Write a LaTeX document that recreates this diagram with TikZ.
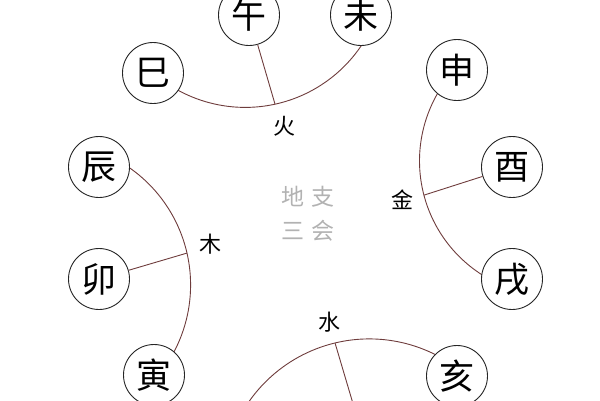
\documentclass[tikz,border=0pt]{standalone}
\usepackage{fontspec}
\setmainfont{Noto Sans CJK SC}
\definecolor{arcred}{RGB}{110,60,60}
\begin{document}
\begin{tikzpicture}[x=1pt,y=1pt,
    zhi/.style={circle,draw=black!85,line width=0.9pt,fill=white,
                minimum size=61pt,inner sep=0pt,font=\fontsize{35}{35}\selectfont},
    xing/.style={font=\fontsize{22}{22}\selectfont},
    link/.style={draw=arcred,line width=0.9pt}]

    \useasboundingbox (0,0) rectangle (600,-400);
    \clip (0,0) rectangle (600,-400);

    % Arc Centres
    % -----------
    \coordinate (firec)  at (245.2,32.6);
    \coordinate (metalc) at (554.5,-160.9);
    \coordinate (woodc)  at (47.6,-285.0);
    \coordinate (waterc) at (369.3,-485.7);

    % Arcs
    % ----
    \draw[link] (firec)  ++(-131:140)   arc[start angle=-131, end angle=-30,  radius=140];
    \draw[link] (metalc) ++(137:135)    arc[start angle=137,  end angle=245,  radius=135];
    \draw[link] (woodc)  ++(60:143)     arc[start angle=60,   end angle=-33,  radius=143];
    \draw[link] (waterc) ++(160:146.8)  arc[start angle=160,  end angle=58,   radius=146.8];

    \path (firec)  ++(-77.7:140)   coordinate (firej);
    \path (metalc) ++(194.7:135)   coordinate (metalj);
    \path (woodc)  ++(12.9:143)    coordinate (woodj);
    \path (waterc) ++(103.5:146.8) coordinate (waterj);
    \coordinate (zi) at (362,-434);

    % Branches
    % --------
    \node[zhi] (si)   at (153,-73)  {巳};
    \node[zhi] (wu)   at (249,-15)  {\raisebox{-7pt}{午}};
    \node[zhi] (wei)  at (361,-15)  {\raisebox{-7pt}{未}};
    \node[zhi] (shen) at (457,-70)  {申};
    \node[zhi] (you)  at (512,-167) {酉};
    \node[zhi] (xu)   at (512,-279) {戌};
    \node[zhi] (hai)  at (457,-376) {亥};
    \node[zhi] (yin)  at (154,-375) {寅};
    \node[zhi] (mao)  at (99,-279)  {卯};
    \node[zhi] (chen) at (99,-167)  {辰};

    % Spokes
    % ------
    \draw[link] (firej)  -- (wu);
    \draw[link] (metalj) -- (you);
    \draw[link] (woodj)  -- (mao);
    \draw[link] (waterj) -- (zi);

    % Labels
    % ------
    \node[xing] (huo)  at (284,-126) {火};
    \node[xing] (jin)  at (402,-200) {金};
    \node[xing] (mu)   at (210,-244) {木};
    \node[xing] (shui) at (329,-322) {水};

    \node[font=\fontsize{23}{34}\selectfont,text=black!30,align=center] (title)
        at (308,-214) {地\hspace{8pt}支\\三\hspace{8pt}会};

\end{tikzpicture}
\end{document}
